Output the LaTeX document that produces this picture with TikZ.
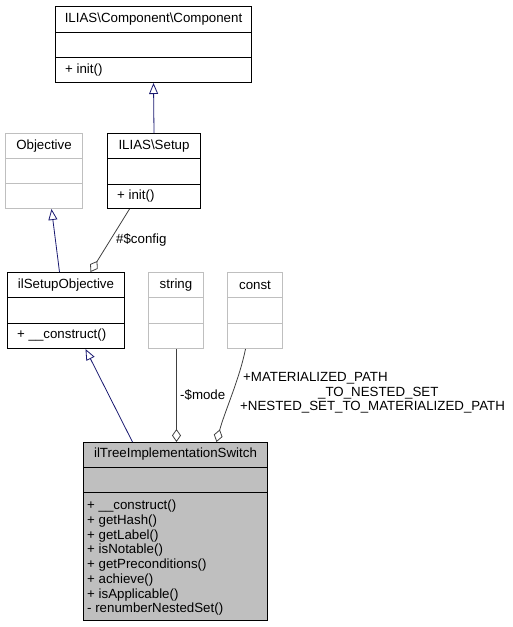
\documentclass[tikz,border=0pt]{standalone}
\usepackage{fontspec}
\setmainfont{Liberation Sans}
\usetikzlibrary{arrows.meta,calc}
\definecolor{edgeblue}{HTML}{191970}
\definecolor{edgegray}{HTML}{404040}
\definecolor{lightborder}{HTML}{BFBFBF}
\definecolor{fillgray}{HTML}{BFBFBF}
\begin{document}
\begin{tikzpicture}[x=1pt,y=-1pt,
  box/.style={draw=black,line width=1pt,inner sep=0,anchor=north west},
  greybox/.style={box,draw=lightborder},
  divider/.style={line width=1pt},
  greydivider/.style={line width=1pt,draw=lightborder},
  title/.style={font=\fontsize{13.3}{15}\selectfont,inner sep=0,anchor=center},
  meth/.style={font=\fontsize{13.3}{14.7}\selectfont,inner sep=0,anchor=west,align=left},
  elabel/.style={font=\fontsize{13.3}{14.5}\selectfont,inner sep=0,anchor=west},
  inherit/.style={draw=edgeblue,line width=0.8pt,-{Triangle[open,length=11pt,width=9pt]}},
  assoc/.style={draw=edgegray,line width=0.8pt,{Diamond[open,length=13pt,width=9pt]}-}
]
\useasboundingbox (0,0) rectangle (513,627);

% ILIAS\Component\Component
\node[box,minimum width=196pt,minimum height=76pt] (comp) at (55,6) {};
\draw[divider] ($(comp.north west)+(0,26)$) -- ($(comp.north east)+(0,26)$);
\draw[divider] ($(comp.north west)+(0,51)$) -- ($(comp.north east)+(0,51)$);
\node[title] (compt) at ($(comp.north)+(0,13)$) {ILIAS\textbackslash Component\textbackslash Component};
\node[meth] (compm) at ($(comp.north west)+(10,64)$) {+ init()};

% ILIAS\Setup
\node[box,minimum width=93pt,minimum height=75pt] (setup) at (107,133) {};
\draw[divider] ($(setup.north west)+(0,25)$) -- ($(setup.north east)+(0,25)$);
\draw[divider] ($(setup.north west)+(0,51)$) -- ($(setup.north east)+(0,51)$);
\node[title] (setupt) at ($(setup.north)+(0,13)$) {ILIAS\textbackslash Setup};
\node[meth] (setupm) at ($(setup.north west)+(10,63)$) {+ init()};

% Objective
\node[greybox,minimum width=77pt,minimum height=75pt] (obj) at (5,133) {};
\draw[greydivider] ($(obj.north west)+(0,25)$) -- ($(obj.north east)+(0,25)$);
\draw[greydivider] ($(obj.north west)+(0,50)$) -- ($(obj.north east)+(0,50)$);
\node[title] (objt) at ($(obj.north)+(0,13)$) {Objective};

% ilSetupObjective
\node[box,minimum width=117pt,minimum height=76pt] (iso) at (7,272) {};
\draw[divider] ($(iso.north west)+(0,25)$) -- ($(iso.north east)+(0,25)$);
\draw[divider] ($(iso.north west)+(0,51)$) -- ($(iso.north east)+(0,51)$);
\node[title] (isot) at ($(iso.north)+(0,13)$) {ilSetupObjective};
\node[meth] (isom) at ($(iso.north west)+(10,63)$) {+ \_\_construct()};

% string
\node[greybox,minimum width=55pt,minimum height=76pt] (str) at (148,272) {};
\draw[greydivider] ($(str.north west)+(0,25)$) -- ($(str.north east)+(0,25)$);
\draw[greydivider] ($(str.north west)+(0,51)$) -- ($(str.north east)+(0,51)$);
\node[title] (strt) at ($(str.north)+(0,13)$) {string};

% const
\node[greybox,minimum width=55pt,minimum height=76pt] (cst) at (227,272) {};
\draw[greydivider] ($(cst.north west)+(0,25)$) -- ($(cst.north east)+(0,25)$);
\draw[greydivider] ($(cst.north west)+(0,51)$) -- ($(cst.north east)+(0,51)$);
\node[title] (cstt) at ($(cst.north)+(0,13)$) {const};

% ilTreeImplementationSwitch
\node[box,fill=fillgray,minimum width=184pt,minimum height=178pt] (tree) at (83,442) {};
\draw[divider] ($(tree.north west)+(0,25)$) -- ($(tree.north east)+(0,25)$);
\draw[divider] ($(tree.north west)+(0,50)$) -- ($(tree.north east)+(0,50)$);
\node[title] (treet) at ($(tree.north)+(0,12)$) {ilTreeImplementationSwitch};
\node[meth,anchor=north west] (treem) at ($(tree.north west)+(4,58)$) {+ \_\_construct()\\+ getHash()\\+ getLabel()\\+ isNotable()\\+ getPreconditions()\\+ achieve()\\+ isApplicable()\\- renumberNestedSet()};

% edges
\draw[inherit] (setup.north) -- (comp.south);
\draw[inherit] ([xshift=-6.5pt]iso.north) -- ([xshift=7.5pt]obj.south);
\draw[assoc] ([xshift=24.5pt]iso.north) -- ([xshift=-24.5pt]setup.south);
\draw[inherit] ([xshift=-43pt]tree.north) -- ([xshift=19.5pt]iso.south);
\draw[assoc] ([xshift=1pt]tree.north) -- ([xshift=0.5pt]str.south);
\draw[assoc] ([xshift=41pt]tree.north) .. controls +(8,-30) and +(-6,30) .. ([xshift=-9.5pt]cst.south);

% edge labels
\node[elabel] (lcfg) at (116,240) {\#\$config};
\node[elabel] (lmode) at (180,395) {-\$mode};
\node[elabel] (lc1) at (243,378) {+MATERIALIZED\_PATH};
\node[elabel] (lc2) at (318,393) {\_TO\_NESTED\_SET};
\node[elabel] (lc3) at (240,407) {+NESTED\_SET\_TO\_MATERIALIZED\_PATH};
\end{tikzpicture}
\end{document}
